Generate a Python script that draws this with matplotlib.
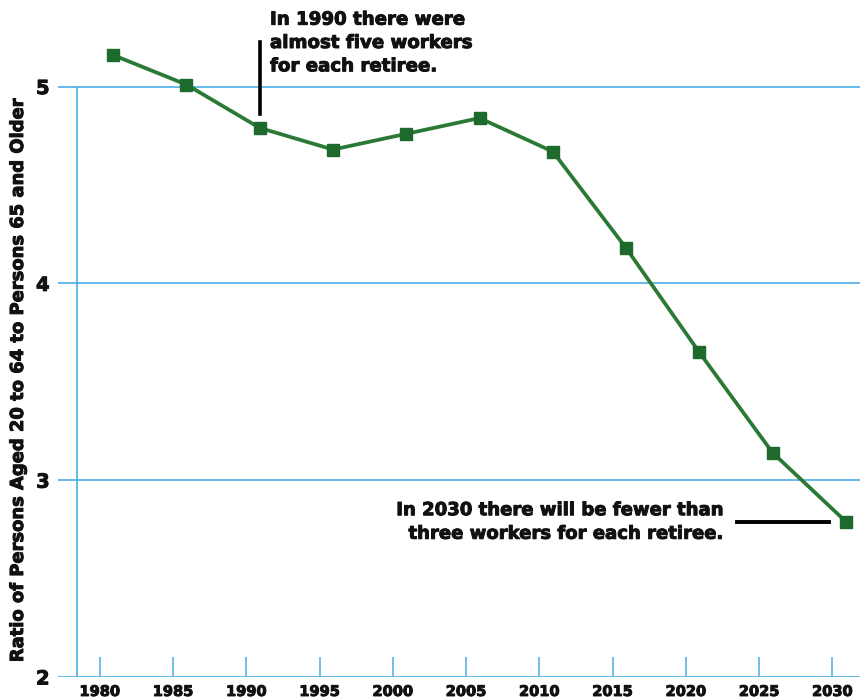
import matplotlib
matplotlib.use("Agg")
import matplotlib.pyplot as plt
import matplotlib.patheffects as pe

# Ratio of working-age population (20-64) to persons 65 and older
years = [1980, 1985, 1990, 1995, 2000, 2005, 2010, 2015, 2020, 2025, 2030]
ratio = [5.16, 5.01, 4.79, 4.68, 4.76, 4.84, 4.67, 4.18, 3.65, 3.14, 2.79]
y_ticks = [2, 3, 4, 5]
x_tick_labels = [str(y) for y in years]

blue = "#4aaee6"
green = "#2a7a36"
marker_green = "#1d6a2c"

plt.rcParams["font.family"] = ["DejaVu Sans"]
plt.rcParams["font.weight"] = "bold"

# slight outline to make the bold type look heavier
heavy = [pe.withStroke(linewidth=0.7, foreground="#111111")]

fig = plt.figure(figsize=(8.6, 6.99), dpi=100)
ax = fig.add_axes([58 / 860, 22 / 699, 1 - 58 / 860, 1 - 22 / 699])

# horizontal rules at each ratio level, reaching past the y axis
for v in y_ticks:
    ax.axhline(v, color=blue, lw=1.2, zorder=1)
# left axis line only runs up to the top rule
ax.vlines(1977.54, 2, 5, color=blue, lw=1.2, zorder=1)

ax.plot(years, ratio, color=green, lw=2.7, marker="s", markersize=9,
        markerfacecolor=marker_green, markeredgecolor=marker_green, zorder=3)

ax.set_xlim(1976.23, 2030.97)
ax.set_ylim(2, 5.44)

# year ticks sit a little left of the plotted points
ax.set_xticks([y - 0.91 for y in years])
ax.set_xticklabels(x_tick_labels, fontsize=10.5, fontweight="bold", color="#111111")
ax.tick_params(axis="x", direction="in", length=14.5, width=1.1, color=blue, pad=5)
ax.set_yticks(y_ticks)
ax.set_yticklabels([str(v) for v in y_ticks], fontsize=14, fontweight="bold", color="#111111")
ax.tick_params(axis="y", length=0, pad=6)
for lbl in ax.get_xticklabels() + ax.get_yticklabels():
    lbl.set_path_effects(heavy)

for s in ax.spines.values():
    s.set_visible(False)

fig.text(18 / 860, 1 - 381 / 699, "Ratio of Persons Aged 20 to 64 to Persons 65 and Older",
         rotation=90, ha="center", va="center", fontsize=12.9, fontweight="bold",
         color="#111111", path_effects=heavy)

# callout for 1990
ax.plot([1990, 1990], [4.86, 5.225], color="black", lw=2.6, zorder=2)
fig.text(270 / 860, 1 - 43 / 699,
         "In 1990 there were\nalmost five workers\nfor each retiree.",
         ha="left", va="center", fontsize=13.1, fontweight="bold", linespacing=1.38,
         color="#111111", path_effects=heavy)

# callout for 2030
ax.plot([2022.55, 2028.87], [2.79, 2.79], color="black", lw=2.8, zorder=2)
fig.text(722 / 860, 1 - 522 / 699,
         "In 2030 there will be fewer than\nthree workers for each retiree.",
         ha="right", va="center", fontsize=13.0, fontweight="bold", linespacing=1.4,
         color="#111111", path_effects=heavy)

fig.savefig("out.png", dpi=100)
